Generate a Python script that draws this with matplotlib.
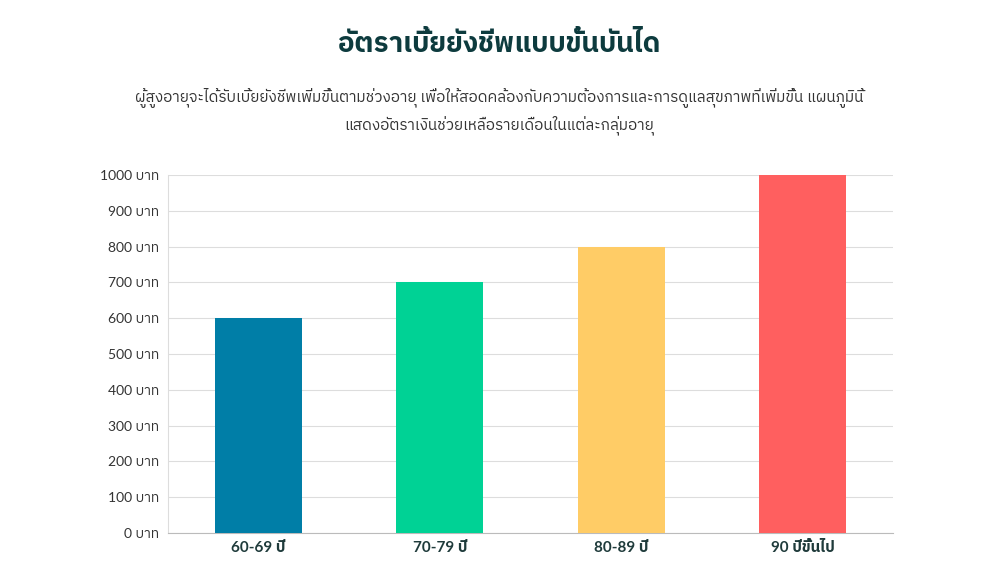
import matplotlib
matplotlib.use("Agg")
import matplotlib.pyplot as plt
from matplotlib import font_manager
from matplotlib.ft2font import FT2Font

# find an installed family that covers Thai
thai_family = None
for f in font_manager.fontManager.ttflist:
    try:
        cmap = FT2Font(f.fname).get_charmap()
    except Exception:
        continue
    if ord('ก') in cmap and ord('ี') in cmap:
        thai_family = f.name
        if 'Thai' in f.name or 'Sarabun' in f.name:
            break
families = ['Lato'] + ([thai_family] if thai_family else []) + ['DejaVu Sans']
plt.rcParams['font.family'] = families

categories = ['60-69 ปี', '70-79 ปี', '80-89 ปี', '90 ปีขึ้นไป']
values = [600, 700, 800, 1000]
colors = ['#007ea7', '#00d295', '#ffcc66', '#ff5f5f']
ticks = list(range(0, 1001, 100))
tick_labels = [f'{t} บาท' for t in ticks]

title = 'อัตราเบี้ยยังชีพแบบขั้นบันได'
subtitle = ('ผู้สูงอายุจะได้รับเบี้ยยังชีพเพิ่มขึ้นตามช่วงอายุ เพื่อให้สอดคล้องกับความต้องการและการดูแลสุขภาพที่เพิ่มขึ้น แผนภูมินี้\n'
            'แสดงอัตราเงินช่วยเหลือรายเดือนในแต่ละกลุ่มอายุ')

fig = plt.figure(figsize=(9.98, 5.87), dpi=100)
ax = fig.add_axes([0.168, 0.092, 0.727, 0.61])

ax.bar(range(len(categories)), values, width=0.48, color=colors, zorder=3)
ax.set_xlim(-0.5, len(categories) - 0.5)
ax.set_ylim(0, 1000)
ax.set_yticks(ticks)
ax.set_yticklabels(tick_labels, fontsize=10, color='#333333')
ax.set_xticks(range(len(categories)))
ax.set_xticklabels(categories, fontsize=11, fontweight='bold', color='#1f3b3b')
ax.grid(axis='y', color='#dddddd', linewidth=0.8, zorder=0)
for s in ['top', 'right']:
    ax.spines[s].set_visible(False)
ax.spines['left'].set_color('#dddddd')
ax.spines['bottom'].set_color('#bbbbbb')
ax.tick_params(length=0, pad=6)

fig.text(0.5, 0.925, title, ha='center', va='center', fontsize=20, fontweight='bold', color='#0d3b3e')
fig.text(0.5, 0.81, subtitle, ha='center', va='center', fontsize=11, color='#333333', linespacing=1.5)

fig.savefig('out.png', dpi=100)
